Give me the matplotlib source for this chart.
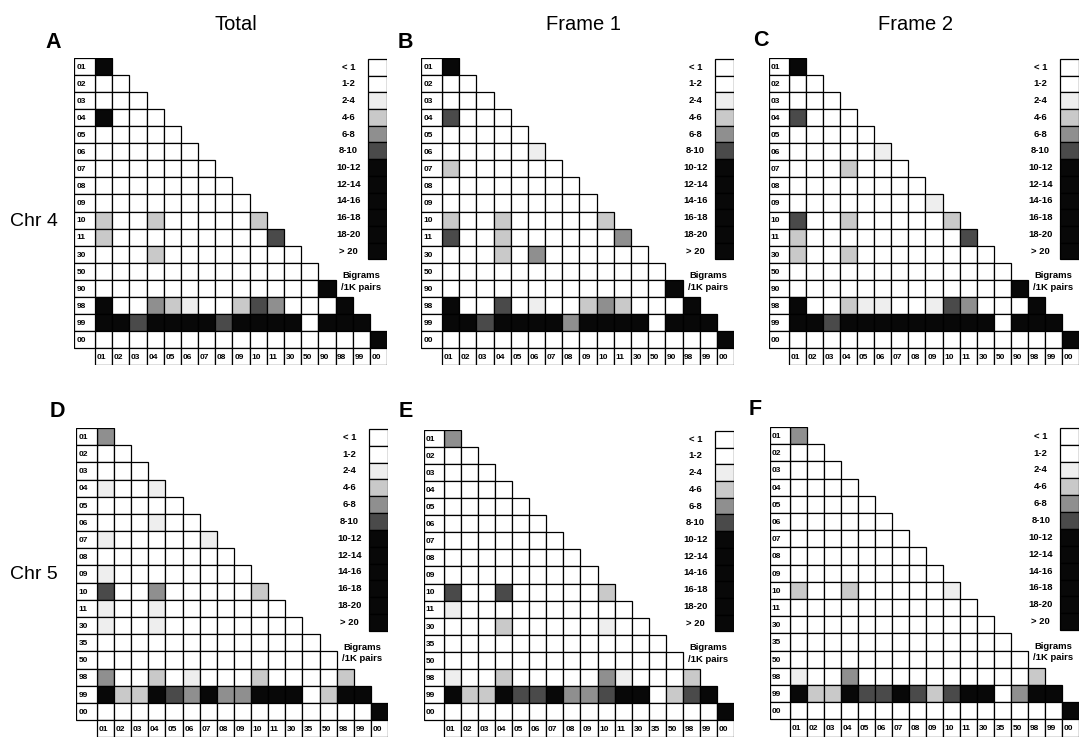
import matplotlib
matplotlib.use("Agg")
import matplotlib.pyplot as plt
from matplotlib.patches import Rectangle

plt.rcParams['font.family'] = ['Liberation Sans', 'DejaVu Sans']

# ---------------- data ----------------
# category labels of each chromosome
labels_chr4 = ["01", "02", "03", "04", "05", "06", "07", "08", "09", "10", "11",
               "30", "50", "90", "98", "99", "00"]
labels_chr5 = ["01", "02", "03", "04", "05", "06", "07", "08", "09", "10", "11",
               "30", "35", "50", "98", "99", "00"]

# legend bins (bigrams per 1K pairs)
bins = ["< 1", "1-2", "2-4", "4-6", "6-8", "8-10", "10-12", "12-14", "14-16",
        "16-18", "18-20", "> 20"]

# bin index of every lower-triangle cell (row i has i+1 cells)
total_chr4 = ["6", "00", "000", "6000", "00000", "000000", "0000000", "00000000",
              "000000000", "3003000003", "30000000005", "000300000000",
              "0000000000000", "00000000000006", "600432003540006",
              "6656666566660666", "00000000000000006"]
frame1_chr4 = ["6", "00", "000", "5000", "00000", "000002", "3000000", "00000000",
               "000000000", "3003000003", "50030000004", "000304000000",
               "0000000000000", "00000000000006", "600502003430006",
               "6656666466660666", "00000000000000006"]
frame2_chr4 = ["6", "00", "000", "5000", "00000", "000002", "0003000", "00000000",
               "000000002", "5003000003", "30000000005", "300300000000",
               "0000000000000", "00000000000006", "600322002540006",
               "6656666666660666", "00000000000000006"]
total_chr5 = ["4", "00", "000", "2002", "00000", "000200", "2000002", "00000000",
              "200000000", "5004000003", "20020000000", "200200000000",
              "0000000000000", "00000000000000", "400302000300003",
              "6336546446660366", "00000000000000006"]
frame1_chr5 = ["4", "00", "000", "0000", "00000", "000000", "0000000", "00000000",
               "000000000", "5005000003", "20000000000", "000300000200",
               "0000000000000", "00000000000000", "200300000420003",
               "6336556445660356", "00000000000000006"]
frame2_chr5 = ["4", "00", "000", "0000", "00000", "000000", "0000000", "00000000",
               "000000000", "3003000002", "00000000000", "000000000000",
               "0000000000000", "00000000000000", "200400000000003",
               "6336556535660466", "00000000000000006"]

bin_colors = ["#ffffff", "#ffffff", "#eeeeee", "#c9c9c9", "#8f8f8f", "#4a4a4a",
              "#080808", "#080808", "#080808", "#080808", "#080808", "#080808"]

col_titles = ["Total", "Frame 1", "Frame 2"]
row_titles = ["Chr 4", "Chr 5"]
panel_letters = ["A", "B", "C", "D", "E", "F"]

# ---------------- layout ----------------
W, H = 1082, 741
fig = plt.figure(figsize=(W / 100, H / 100), dpi=100)

panels = [
    # data, labels, grid_left, grid_top, cell_w, cell_h
    (total_chr4, labels_chr4, 95, 58, 17.18, 17.06),
    (frame1_chr4, labels_chr4, 442, 58, 17.18, 17.06),
    (frame2_chr4, labels_chr4, 789, 58, 17.06, 17.06),
    (total_chr5, labels_chr5, 97, 428, 17.12, 17.18),
    (frame1_chr5, labels_chr5, 444, 430, 17.06, 17.06),
    (frame2_chr5, labels_chr5, 790, 427, 17.0, 17.2),
]

LABW = 1.2
n = 17
lw = 0.9
fs_small = 6.0
fs_leg = 6.8

for data, labels, gl, gt, cw, chh in panels:
    left = gl - LABW * cw
    width = (n + LABW) * cw
    height = (n + 1) * chh
    ax = fig.add_axes([left / W, 1 - (gt + height) / H, width / W, height / H])
    ax.set_xlim(-LABW, n)
    ax.set_ylim(n + 1, 0)
    ax.axis("off")

    # cells
    for i, row in enumerate(data):
        for j, ch in enumerate(row):
            lev = int(ch)
            ax.add_patch(Rectangle((j, i), 1, 1, facecolor=bin_colors[lev],
                                   edgecolor="black", linewidth=lw))
    # row labels
    for i, lab in enumerate(labels):
        ax.add_patch(Rectangle((-LABW, i), LABW, 1, facecolor="white",
                               edgecolor="black", linewidth=lw))
        ax.text(-LABW + 0.12, i + 0.55, lab, ha="left", va="center",
                fontsize=fs_small, fontweight="bold")
    # column labels
    for j, lab in enumerate(labels):
        ax.add_patch(Rectangle((j, n), 1, 1, facecolor="white",
                               edgecolor="black", linewidth=lw))
        ax.text(j + 0.1, n + 0.55, lab, ha="left", va="center",
                fontsize=fs_small, fontweight="bold")

    # legend
    lx0, lwid, lh = 15.9, 1.1, 0.98
    for k, b in enumerate(bins):
        ax.add_patch(Rectangle((lx0, 0.05 + k * lh), lwid, lh,
                               facecolor=bin_colors[k], edgecolor="black",
                               linewidth=lw))
        ax.text(lx0 - 1.15, 0.05 + (k + 0.5) * lh, b, ha="center", va="center",
                fontsize=fs_leg, fontweight="bold")
    ax.text(lx0 - 0.4, 13.1, "Bigrams\n/1K pairs", ha="center", va="center",
            fontsize=fs_leg, fontweight="bold", linespacing=1.3)

# titles and letters
for t, x in zip(col_titles, [236, 583, 915]):
    fig.text(x / W, 1 - 30 / H, t, ha="center", va="baseline", fontsize=14.5)
for t, y in zip(row_titles, [226, 579]):
    fig.text(34 / W, 1 - y / H, t, ha="center", va="baseline", fontsize=14)
for t, (x, y) in zip(panel_letters, [(53, 48), (405, 48), (761, 46),
                                     (57, 417), (406, 417), (755, 415)]):
    fig.text(x / W, 1 - y / H, t, ha="center", va="baseline", fontsize=15.5,
             fontweight="bold")

fig.savefig("out.png", dpi=100, facecolor="white")
